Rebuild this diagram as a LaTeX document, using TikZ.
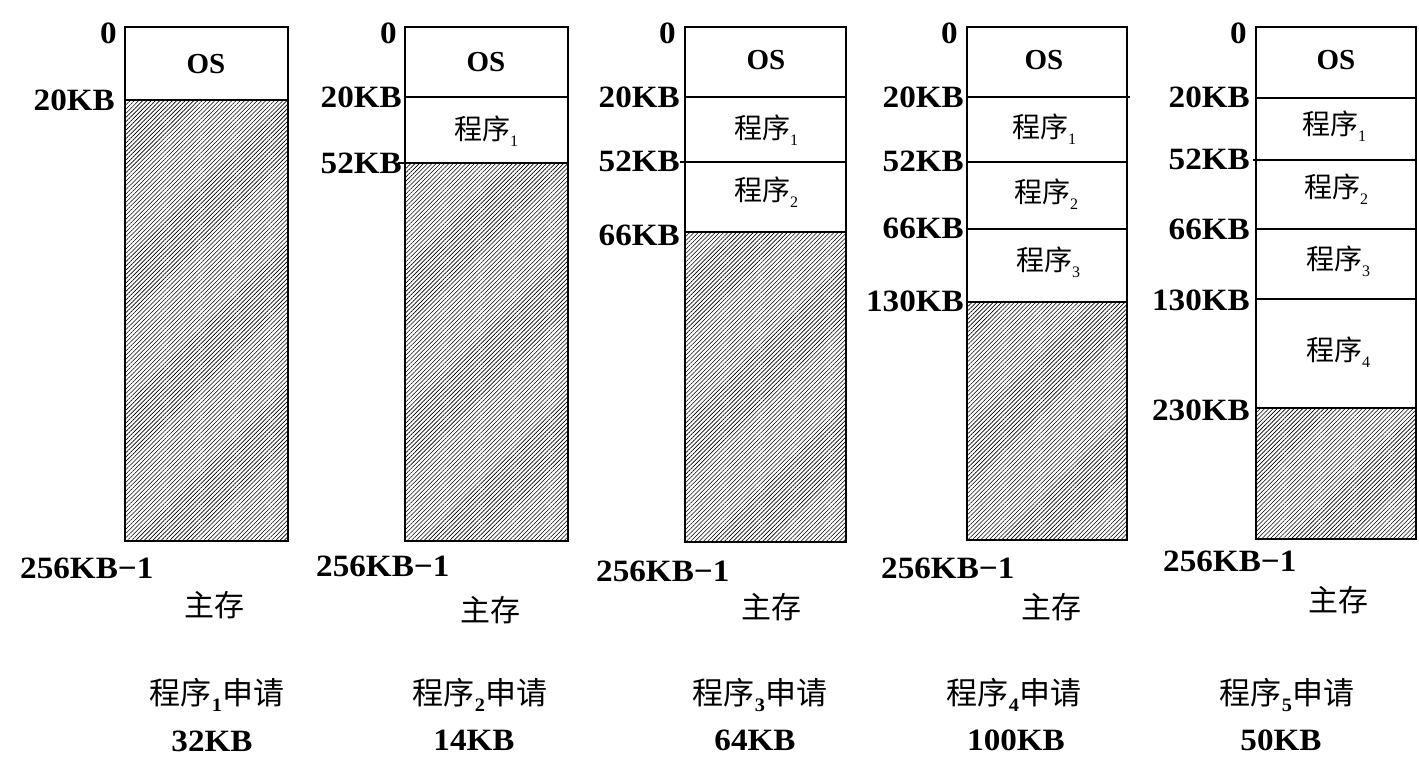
\documentclass[tikz,border=0pt]{standalone}
\usepackage{fontspec}
\setmainfont{Liberation Serif}
\newfontfamily\lblf[FakeStretch=1.07]{Liberation Serif}
\newfontfamily\cjkf{Noto Sans CJK SC}
\usetikzlibrary{patterns.meta}
\newcommand\psub[1]{\raisebox{-0.45ex}{\rmfamily\mdseries\fontsize{16}{16}\selectfont #1}}
\newcommand\bsub[1]{\raisebox{-0.45ex}{\lblf\bfseries\fontsize{19}{19}\selectfont #1}}
\tikzset{
 addr/.style={font=\lblf\bfseries\fontsize{31}{31}\selectfont, anchor=east, inner sep=0pt},
 addrlow/.style={font=\lblf\bfseries\fontsize{31}{31}\selectfont, anchor=west, inner sep=0pt},
 ostext/.style={font=\bfseries\fontsize{29}{29}\selectfont, inner sep=0pt},
 prog/.style={font=\cjkf\fontsize{28}{28}\selectfont, inner sep=0pt},
 mem/.style={font=\cjkf\fontsize{30}{30}\selectfont, inner sep=0pt},
 req/.style={font=\cjkf\fontsize{31}{31}\selectfont, inner sep=0pt},
 size/.style={font=\lblf\bfseries\fontsize{31}{31}\selectfont, inner sep=0pt},
 frame/.style={draw, line width=2pt},
 sep/.style={line width=1.6pt},
 free/.style={pattern={Lines[angle=45,distance=3pt,line width=0.6pt]}, pattern color=black},
}
\begin{document}
\begin{tikzpicture}[x=1pt,y=-1pt]
\useasboundingbox (0,0) rectangle (1419,778);
% ---------- column 1
\fill[free] (125,100) rectangle (288,541);
\draw[sep] (125,100) -- (288,100);
\draw[frame] (125,27) rectangle (288,541);
\node[ostext] (os1) at (206,64) {OS};
\node[addr] (a1z) at (117,33) {0};
\node[addr] (a1a) at (115,100) {20KB};
\node[addrlow] (a1e) at (20,568) {256KB−1};
\node[mem] (m1) at (214,605) {主存};
\node[req] (r1) at (217,695) {程序\bsub{1}申请};
\node[size] (s1) at (212,741) {32KB};
% ---------- column 2
\fill[free] (405,163) rectangle (568,541);
\draw[sep] (405,97) -- (568,97);
\draw[sep] (398,163) -- (568,163);
\draw[frame] (405,27) rectangle (568,541);
\node[ostext] (os2) at (486,62) {OS};
\node[prog] (p21) at (486,131) {程序\psub{1}};
\node[addr] (a2z) at (397,33) {0};
\node[addr] (a2a) at (402,97) {20KB};
\node[addr] (a2b) at (402,163) {52KB};
\node[addrlow] (a2e) at (316,566) {256KB−1};
\node[mem] (m2) at (490,610) {主存};
\node[req] (r2) at (480,695) {程序\bsub{2}申请};
\node[size] (s2) at (474,740) {14KB};
% ---------- column 3
\fill[free] (685,232) rectangle (846,542);
\draw[sep] (685,97) -- (846,97);
\draw[sep] (680,162) -- (846,162);
\draw[sep] (685,232) -- (846,232);
\draw[frame] (685,27) rectangle (846,542);
\node[ostext] (os3) at (766,60) {OS};
\node[prog] (p31) at (766,130) {程序\psub{1}};
\node[prog] (p32) at (766,192) {程序\psub{2}};
\node[addr] (a3z) at (676,33) {0};
\node[addr] (a3a) at (680,97) {20KB};
\node[addr] (a3b) at (680,161) {52KB};
\node[addr] (a3c) at (680,235) {66KB};
\node[addrlow] (a3e) at (596,571) {256KB−1};
\node[mem] (m3) at (771,607) {主存};
\node[req] (r3) at (760,695) {程序\bsub{3}申请};
\node[size] (s3) at (755,740) {64KB};
% ---------- column 4
\fill[free] (967,302) rectangle (1127,540);
\draw[sep] (967,97) -- (1130,97);
\draw[sep] (967,162) -- (1127,162);
\draw[sep] (967,229) -- (1127,229);
\draw[sep] (967,302) -- (1127,302);
\draw[frame] (967,27) rectangle (1127,540);
\node[ostext] (os4) at (1044,60) {OS};
\node[prog] (p41) at (1044,129) {程序\psub{1}};
\node[prog] (p42) at (1046,194) {程序\psub{2}};
\node[prog] (p43) at (1048,262) {程序\psub{3}};
\node[addr] (a4z) at (958,33) {0};
\node[addr] (a4a) at (964,97) {20KB};
\node[addr] (a4b) at (964,161) {52KB};
\node[addr] (a4c) at (964,228) {66KB};
\node[addr] (a4d) at (964,301) {130KB};
\node[addrlow] (a4e) at (881,568) {256KB−1};
\node[mem] (m4) at (1051,607) {主存};
\node[req] (r4) at (1014,695) {程序\bsub{4}申请};
\node[size] (s4) at (1016,740) {100KB};
% ---------- column 5
\fill[free] (1256,408) rectangle (1416,539);
\draw[sep] (1256,98) -- (1416,98);
\draw[sep] (1253,160) -- (1416,160);
\draw[sep] (1256,229) -- (1416,229);
\draw[sep] (1256,299) -- (1416,299);
\draw[sep] (1256,408) -- (1416,408);
\draw[frame] (1256,27) rectangle (1416,539);
\node[ostext] (os5) at (1336,60) {OS};
\node[prog] (p51) at (1334,126) {程序\psub{1}};
\node[prog] (p52) at (1336,189) {程序\psub{2}};
\node[prog] (p53) at (1338,261) {程序\psub{3}};
\node[prog] (p54) at (1338,352) {程序\psub{4}};
\node[addr] (a5z) at (1247,33) {0};
\node[addr] (a5a) at (1250,97) {20KB};
\node[addr] (a5b) at (1250,159) {52KB};
\node[addr] (a5c) at (1250,229) {66KB};
\node[addr] (a5d) at (1250,300) {130KB};
\node[addr] (a5f) at (1250,410) {230KB};
\node[addrlow] (a5e) at (1163,561) {256KB−1};
\node[mem] (m5) at (1338,600) {主存};
\node[req] (r5) at (1287,695) {程序\bsub{5}申请};
\node[size] (s5) at (1281,740) {50KB};
\end{tikzpicture}
\end{document}
